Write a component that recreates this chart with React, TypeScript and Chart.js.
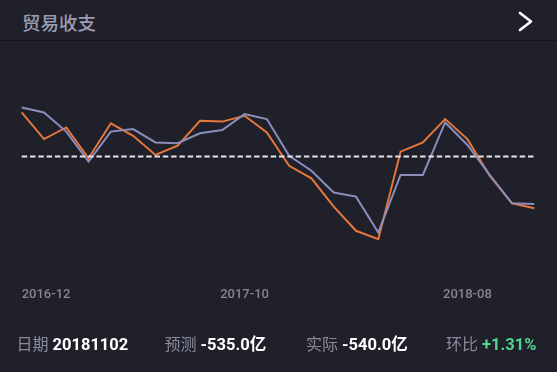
import React, { useEffect, useRef } from "react";
import { Chart, registerables } from "chart.js";

Chart.register(...registerables);

const months = [
  "2016-12", "2017-01", "2017-02", "2017-03", "2017-04", "2017-05",
  "2017-06", "2017-07", "2017-08", "2017-09", "2017-10", "2017-11",
  "2017-12", "2018-01", "2018-02", "2018-03", "2018-04", "2018-05",
  "2018-06", "2018-07", "2018-08", "2018-09", "2018-10", "2018-11",
];
const shownTicks = ["2016-12", "2017-10", "2018-08"];

// 实际 (actual), 亿
const actual = [
  -425, -457, -443, -480, -438, -453, -476, -465, -435, -436, -429, -449,
  -489, -504, -538, -567, -577, -472, -461, -433, -457, -501, -534, -540,
];
// 预测 (forecast), 亿
const forecast = [
  -419, -425, -448, -484, -448, -445, -461, -462, -450, -446, -427, -433,
  -477, -495, -521, -526, -569, -500, -500, -437, -464, -500, -534, -535,
];
// dashed reference level
const referenceLevel = [
  -478, -478, -478, -478, -478, -478, -478, -478, -478, -478, -478, -478,
  -478, -478, -478, -478, -478, -478, -478, -478, -478, -478, -478, -478,
];

const title = "贸易收支";
const infoItems = [
  { label: "日期", value: "20181102" },
  { label: "预测", value: "-535.0亿" },
  { label: "实际", value: "-540.0亿" },
  { label: "环比", value: "+1.31%" },
];

const BG = "#1f2029";

export default function App() {
  const ref = useRef<HTMLCanvasElement | null>(null);

  useEffect(() => {
    if (!ref.current) return;
    const chart = new Chart(ref.current, {
      type: "line",
      data: {
        labels: months,
        datasets: [
          {
            data: referenceLevel,
            borderColor: "#e4e4ea",
            borderWidth: 2,
            borderDash: [5.5, 2.8],
            pointRadius: 0,
            tension: 0,
          },
          {
            data: forecast,
            borderColor: "#8b8dbd",
            borderWidth: 2,
            pointRadius: 0,
            tension: 0,
          },
          {
            data: actual,
            borderColor: "#e5773a",
            borderWidth: 2,
            pointRadius: 0,
            tension: 0,
          },
        ],
      },
      options: {
        animation: false,
        responsive: false,
        devicePixelRatio: 1,
        layout: { padding: { left: 21.7, right: 22.7, top: 31.6, bottom: 0 } },
        plugins: { legend: { display: false }, tooltip: { enabled: false } },
        scales: {
          x: {
            grid: { display: false },
            border: { display: false },
            afterFit: (scale: any) => {
              scale.height = 81.7;
            },
            ticks: {
              autoSkip: false,
              maxRotation: 0,
              minRotation: 0,
              align: "inner",
              padding: 21,
              color: "#858595",
              font: { family: "Roboto", size: 13, weight: "500" },
              callback: (_v: any, i: number) =>
                shownTicks.includes(months[i]) ? months[i] : "",
            },
          },
          y: { display: false, min: -600, max: -400 },
        },
      },
    });
    return () => chart.destroy();
  }, []);

  const lefts = [16.5, 164.5, 306, 446];

  return (
    <div
      style={{
        position: "absolute",
        left: 0,
        top: 0,
        width: 557,
        height: 372,
        background: BG,
        overflow: "hidden",
        fontFamily: 'Roboto, "Noto Sans CJK SC", sans-serif',
      }}
    >
      <div
        style={{
          position: "absolute",
          left: 0,
          top: 0,
          width: 557,
          height: 40,
          borderBottom: "1px solid #15161c",
        }}
      >
        <div
          style={{
            position: "absolute",
            left: 22,
            top: 9,
            fontFamily: '"Noto Sans CJK SC", sans-serif',
            fontSize: 18.5,
            fontWeight: 500,
            color: "#9c9cb3",
            lineHeight: "26px",
          }}
        >
          {title}
        </div>
        <svg
          style={{ position: "absolute", left: 514, top: 8 }}
          width={24}
          height={26}
        >
          <polyline
            points="6,5 17,13.5 6,22"
            fill="none"
            stroke="#ffffff"
            strokeWidth={2.6}
            strokeLinecap="round"
            strokeLinejoin="round"
          />
        </svg>
      </div>
      <canvas
        ref={ref}
        width={557}
        height={280}
        style={{ position: "absolute", left: 0, top: 60, width: 557, height: 280 }}
      />
      {infoItems.map((it, i) => (
        <div
          key={it.label}
          style={{
            position: "absolute",
            left: lefts[i],
            top: 331,
            fontSize: 16,
            lineHeight: "24px",
            whiteSpace: "nowrap",
          }}
        >
          <span style={{ color: "#8a8a9c", fontFamily: '"Noto Sans CJK SC", sans-serif' }}>
            {it.label}
          </span>
          <span
            style={{
              color: i === 3 ? "#4fd58d" : "#ffffff",
              fontWeight: 700,
              marginLeft: 4,
              fontSize: 16.5,
            }}
          >
            {it.value}
          </span>
        </div>
      ))}
    </div>
  );
}
